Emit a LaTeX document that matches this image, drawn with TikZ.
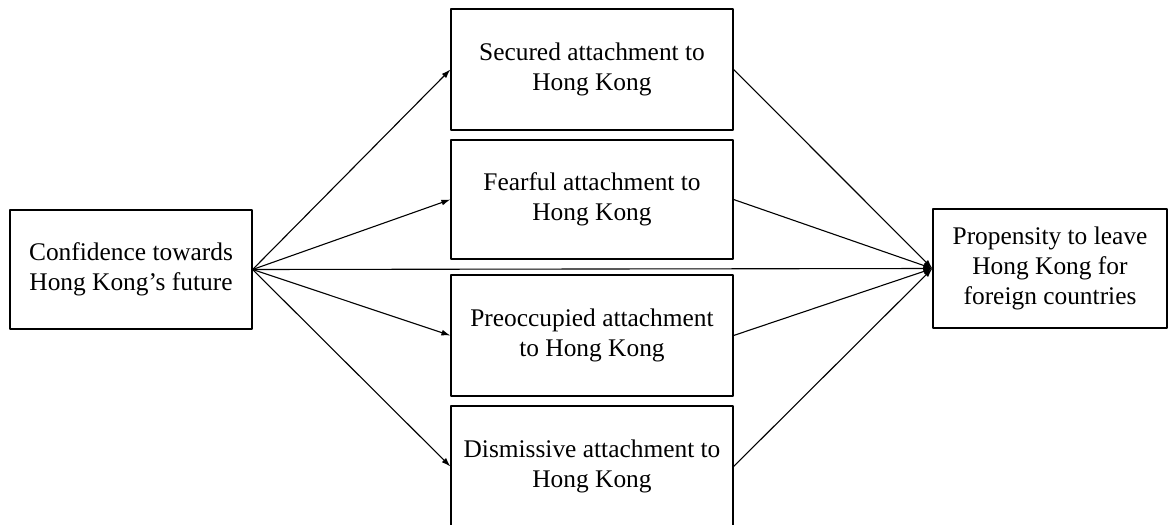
\documentclass[tikz,border=0pt]{standalone}
\usepackage{fontspec}
\setmainfont{Liberation Serif}
\usepackage{tikz}
\usetikzlibrary{arrows.meta,positioning}

\tikzset{
  varbox/.style={draw, line width=0.6pt, align=center, inner sep=0pt,
    font=\fontsize{12.7}{15}\selectfont},
  path/.style={line width=0.55pt, -{Latex[length=4.5pt,width=3pt]}}
}

\begin{document}
\begin{tikzpicture}[x=0.5pt, y=-0.5pt, line join=round]

\useasboundingbox (0,0) rectangle (1168,525);
\clip (0,0) rectangle (1168,525);

\node (confidence) at (131, 269.5) [varbox, minimum width=121pt, minimum height=59.5pt] {Confidence towards\\Hong Kong’s future};

\node (secured) at (592, 69.5) [varbox, minimum width=141pt, minimum height=60.5pt] {Secured attachment to\\Hong Kong};
\node (fearful) at (592, 199.5) [varbox, minimum width=141pt, minimum height=59.5pt] {Fearful attachment to\\Hong Kong};
\node (preoccupied) at (592, 335.5) [varbox, minimum width=141pt, minimum height=60.5pt] {Preoccupied attachment\\to Hong Kong};
\node (dismissive) at (592, 466.5) [varbox, minimum width=141pt, minimum height=60.5pt] {Dismissive attachment to\\Hong Kong};

\node (propensity) at (1050, 268.5) [varbox, minimum width=117pt, minimum height=59.5pt] {Propensity to leave\\Hong Kong for\\foreign countries};

\draw[path] (confidence.east) -- (secured.west);
\draw[path] (confidence.east) -- (fearful.west);
\draw[path] (confidence.east) -- (preoccupied.west);
\draw[path] (confidence.east) -- (dismissive.west);
\draw[path] (confidence.east) -- (propensity.west);

\draw[path] (secured.east) -- (propensity.west);
\draw[path] (fearful.east) -- (propensity.west);
\draw[path] (preoccupied.east) -- (propensity.west);
\draw[path] (dismissive.east) -- (propensity.west);

\end{tikzpicture}
\end{document}
